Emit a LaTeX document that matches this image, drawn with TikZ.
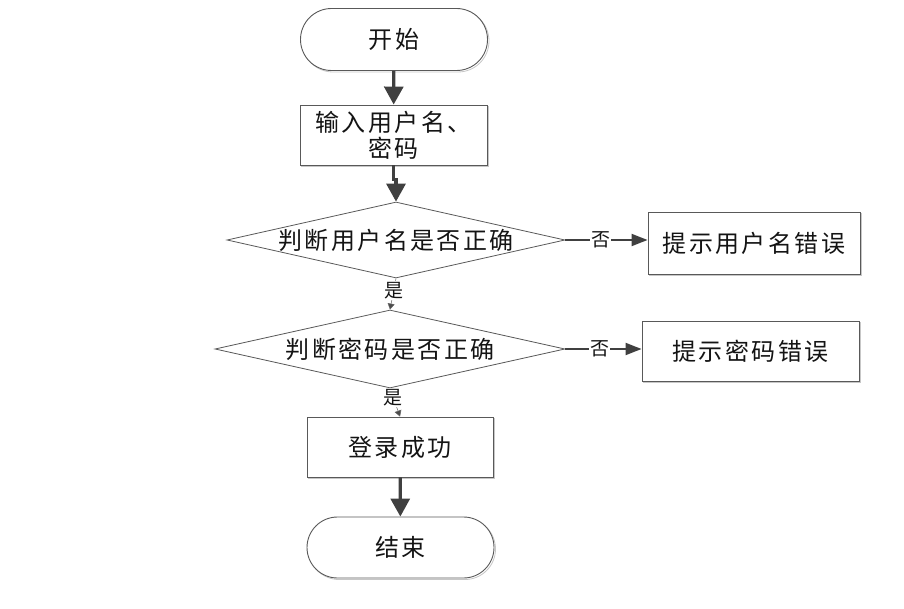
\documentclass[tikz,border=0pt]{standalone}
\usepackage{fontspec}
\setmainfont[LetterSpace=10]{Noto Sans CJK SC}
\usetikzlibrary{shapes.geometric,shapes.misc,arrows.meta,shadows}
\tikzset{
  x=1pt, y=-1pt,
  shade/.style={general shadow={shadow xshift=1.5pt, shadow yshift=-1.5pt, draw=black!22, fill=none, line width=0.8pt}},
  box/.style={rectangle, draw=black!65, line width=0.9pt, fill=white, inner sep=0pt, shade,
              font=\fontsize{24}{26}\selectfont, text=black!92, align=center},
  term/.style={box, rounded rectangle},
  dec/.style={diamond, aspect=1, draw=black!65, line width=0.8pt, fill=white, inner sep=0pt,
              font=\fontsize{24}{26}\selectfont, text=black!92},
  mainarr/.style={draw=black!75, line width=3.3pt, -{Triangle[length=18pt,width=19pt]}},
  noarr/.style={draw=black!75, line width=2pt, -{Triangle[length=16pt,width=12pt]}},
  yesarr/.style={draw=black!60, line width=0.5pt, -{Triangle[length=6pt,width=7pt,fill=black!70]}},
  lab/.style={fill=white, inner sep=1pt, font=\fontsize{19}{19}\selectfont, text=black!92}
}
\begin{document}
\begin{tikzpicture}
\useasboundingbox (0,0) rectangle (904,609);
\node[term, minimum width=187pt, minimum height=62pt] (start) at (394,39.5) {开始};
\node[box, minimum width=187pt, minimum height=60pt] (input) at (393.5,135) {输入用户名、\\密码};
\node[dec, minimum width=338pt, minimum height=76pt] (d1) at (396,240) {\makebox[0pt]{判断用户名是否正确}};
\node[box, minimum width=212pt, minimum height=62pt] (e1) at (754,243) {提示用户名错误};
\node[dec, minimum width=350pt, minimum height=78pt] (d2) at (390,349) {\makebox[0pt]{判断密码是否正确}};
\node[box, minimum width=217pt, minimum height=60pt] (e2) at (750.5,351) {提示密码错误};
\node[box, minimum width=186pt, minimum height=60pt] (ok) at (400,447) {登录成功};
\node[term, minimum width=187pt, minimum height=61pt] (end) at (400.5,547.5) {结束};

\draw[mainarr] (start) -- (input);
\draw[mainarr] (input.south) -- ++(0,14) -| (d1.north);
\draw[noarr] (d1.east) -- node[lab, pos=0.43] {否} (d1.east -| e1.west);
\draw[noarr] (d2.east) -- node[lab, pos=0.45] {否} (d2.east -| e2.west);
\draw[yesarr] (d1.south) -- node[lab, pos=0.38] {是} (d2.north);
\draw[yesarr] (d2.south) -- node[lab, pos=0.33] {是} (ok.north);
\draw[mainarr] (ok) -- (end);
\end{tikzpicture}
\end{document}
